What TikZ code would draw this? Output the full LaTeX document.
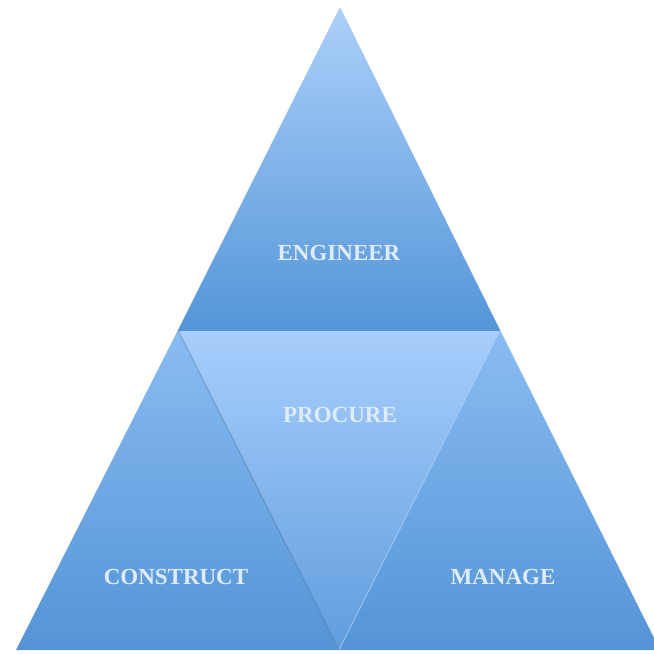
\documentclass[tikz,border=0pt]{standalone}
\usepackage{fontspec}
\setmainfont{Liberation Serif}
\definecolor{lblA}{RGB}{172,208,250}
\definecolor{lblB}{RGB}{84,150,216}
\definecolor{midA}{RGB}{168,206,252}
\definecolor{midB}{RGB}{96,157,222}
\definecolor{sideA}{RGB}{138,188,242}
\definecolor{sideB}{RGB}{84,148,214}
\definecolor{txt}{RGB}{222,236,253}
\tikzset{
  lbl/.style={text=txt, font=\fontsize{23}{23}\selectfont\bfseries},
  darkline/.style={draw=black!40!lblB, opacity=0.35, line width=1pt},
  lightline/.style={draw=lblA, opacity=0.6, line width=1pt}
}
\begin{document}
\begin{tikzpicture}[x=1pt,y=-1pt]
\useasboundingbox (0,0) rectangle (654,654);
\coordinate (A) at (340,7);
\coordinate (L) at (178,330);
\coordinate (R) at (500,330);
\coordinate (BL) at (16,650);
\coordinate (BR) at (660,650);
\coordinate (BM) at (339,650);
\shade[top color=sideA, bottom color=sideB] (L) -- (BL) -- (BM) -- cycle;
\shade[top color=sideA, bottom color=sideB] (R) -- (BM) -- (BR) -- cycle;
\shade[top color=midA, bottom color=midB] (L) -- (R) -- (BM) -- cycle;
\shade[top color=lblA, bottom color=lblB] (A) -- (L) -- (R) -- cycle;
\draw[darkline] (L) -- (BM);
\draw[lightline] (R) -- (BM);
\draw[draw=lblB, line width=0.8pt] (L) -- (R);
\node[lbl] (eng) at (339,253) {ENGINEER};
\node[lbl] (pro) at (340,415) {PROCURE};
\node[lbl] (con) at (176,577) {CONSTRUCT};
\node[lbl] (man) at (503,577) {MANAGE};
\end{tikzpicture}
\end{document}
